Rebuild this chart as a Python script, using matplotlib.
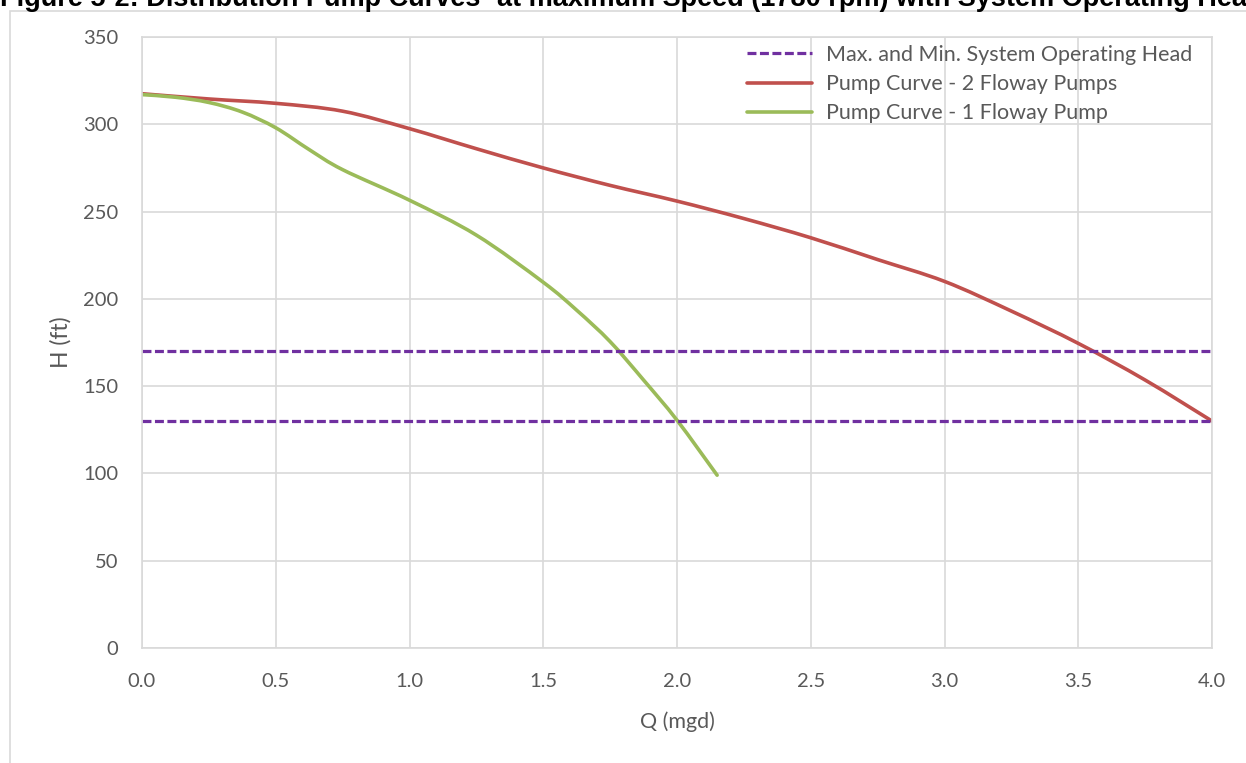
import numpy as np
import matplotlib
matplotlib.use("Agg")
import matplotlib.pyplot as plt
from matplotlib.patches import Rectangle, PathPatch
from matplotlib.path import Path
from matplotlib.lines import Line2D

# pump curve data
q_two = [0, 0.25, 0.5, 0.75, 1.0, 1.25, 1.5, 1.75, 2.0, 2.25, 2.5, 2.75, 3.0, 3.25, 3.5, 3.75, 4.0]
h_two = [317.5, 314.5, 312, 307.5, 297.5, 286, 275, 265, 256, 246, 235, 222.5, 210, 193, 174.5, 153.5, 130]

q_one = [0, 0.125, 0.25, 0.375, 0.5, 0.625, 0.75, 1.0, 1.25, 1.5, 1.625, 1.75, 1.875, 2.0, 2.15]
h_one = [317, 315.5, 312.5, 307, 298, 285.5, 274, 256.5, 236.5, 209.5, 193.5, 175.5, 153.5, 130.5, 99]

head_max = 170
head_min = 130
q_range = [0, 4.0]

x_ticks = [0, 0.5, 1.0, 1.5, 2.0, 2.5, 3.0, 3.5, 4.0]
y_ticks = [0, 50, 100, 150, 200, 250, 300, 350]

labels = ["Max. and Min. System Operating Head",
          "Pump Curve - 2 Floway Pumps",
          "Pump Curve - 1 Floway Pump"]


def smooth_path(x, y):
    # excel style "smoothed line": bezier segments through the points
    pts = np.column_stack([x, y]).astype(float)
    verts = [pts[0]]
    codes = [Path.MOVETO]
    n = len(pts)
    for i in range(n - 1):
        p0 = pts[i - 1] if i > 0 else pts[i]
        p1, p2 = pts[i], pts[i + 1]
        p3 = pts[i + 2] if i + 2 < n else pts[i + 1]
        verts += [p1 + (p2 - p0) / 6, p2 - (p3 - p1) / 6, p2]
        codes += [Path.CURVE4] * 3
    return Path(verts, codes)


plt.rcParams['font.family'] = ['Lato', 'DejaVu Sans']

W, H = 1246, 763
fig = plt.figure(figsize=(W / 100, H / 100), dpi=100)
ax = fig.add_axes([142 / W, 1 - 648 / H, (1212 - 142) / W, (648 - 37) / H])

grid_c = "#D9D9D9"
txt_c = "#595959"
purple = "#7030A0"
red = "#C0504D"
green = "#9BBB59"
dash = (0, (2.8, 1.1))

# chart border
fig.patches.append(Rectangle((9.5 / W, -0.1), 1.2, 1 - 11 / H + 0.1,
                             transform=fig.transFigure, fill=False,
                             edgecolor=grid_c, lw=1.2))

# title sits partly above the top edge, as in the source page
fig.text(0.0, 1 - 6 / H,
         "Figure 5-2: Distribution Pump Curves\u00b9 at maximum Speed (1780 rpm) with System Operating Head",
         fontsize=19.5, fontweight="bold", family="Liberation Sans",
         ha="left", va="baseline", color="black")

ax.plot(q_range, [head_max, head_max], color=purple, lw=2.3, ls=dash, dash_capstyle="butt")
ax.plot(q_range, [head_min, head_min], color=purple, lw=2.3, ls=dash, dash_capstyle="butt")
ax.add_patch(PathPatch(smooth_path(q_two, h_two), fill=False, edgecolor=red,
                       lw=2.6, capstyle="round"))
ax.add_patch(PathPatch(smooth_path(q_one, h_one), fill=False, edgecolor=green,
                       lw=2.6, capstyle="round"))

ax.set_xlim(0, 4.0)
ax.set_ylim(0, 350)
ax.set_xticks(x_ticks)
ax.set_xticklabels([f"{v:.1f}" for v in x_ticks])
ax.set_yticks(y_ticks)
ax.grid(True, color=grid_c, lw=1.2)
ax.set_axisbelow(True)
for s in ax.spines.values():
    s.set_color(grid_c)
    s.set_linewidth(1.2)
ax.tick_params(length=0, labelsize=14.5, colors=txt_c)
ax.tick_params(axis="y", pad=17)
ax.tick_params(axis="x", pad=18)

ax.set_xlabel("Q (mgd)", fontsize=15.5, color=txt_c)
ax.set_ylabel("H (ft)", fontsize=16.5, color=txt_c)
ax.xaxis.set_label_coords(0.5, -(711 - 648) / 611)
ax.yaxis.set_label_coords((72 - 142) / 1070, 0.5)

handles = [Line2D([], [], color=purple, lw=2.3, ls=dash, dash_capstyle="butt"),
           Line2D([], [], color=red, lw=2.6, solid_capstyle="round"),
           Line2D([], [], color=green, lw=2.6, solid_capstyle="round")]
fig.legend(handles, labels, loc="upper left", bbox_to_anchor=(747 / W, 1 - 45 / H),
           frameon=False, fontsize=15.5, labelcolor=txt_c, handlelength=3.0,
           handletextpad=0.65, labelspacing=0.42, borderpad=0, borderaxespad=0)

fig.savefig("out.png", dpi=100)
plt.close()
